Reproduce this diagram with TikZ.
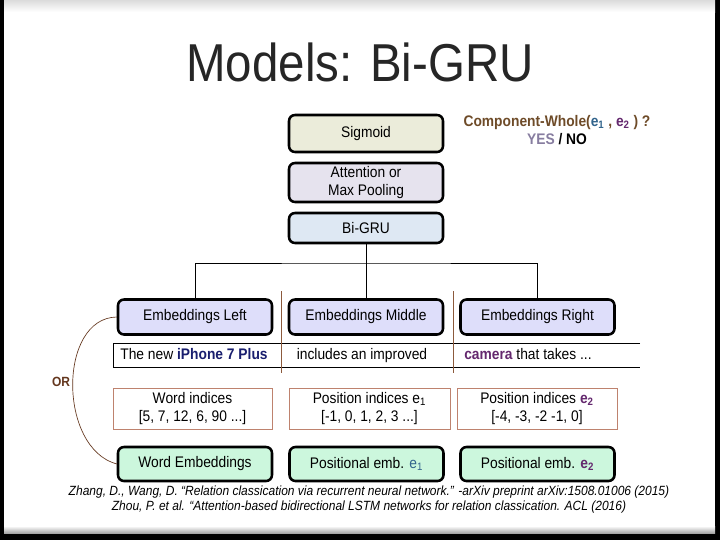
\documentclass[tikz,border=0pt]{standalone}
\usepackage{fontspec}
\setmainfont[FakeStretch=0.9]{Liberation Sans}
\newfontfamily\titlefont[FakeStretch=0.89]{Liberation Sans}
\usetikzlibrary{positioning}

\definecolor{sigfill}{RGB}{235,236,218}
\definecolor{attfill}{RGB}{230,227,238}
\definecolor{grufill}{RGB}{222,232,243}
\definecolor{embfill}{RGB}{222,222,250}
\definecolor{wembfill}{RGB}{204,247,221}
\definecolor{idxdraw}{RGB}{190,130,110}
\definecolor{sepbrown}{RGB}{140,90,60}
\definecolor{orbrown}{RGB}{100,55,30}
\definecolor{cwbrown}{RGB}{110,75,40}
\definecolor{eone}{RGB}{50,100,140}
\definecolor{etwo}{RGB}{100,40,110}
\definecolor{yesgray}{RGB}{135,125,160}
\definecolor{phone}{RGB}{25,30,110}
\definecolor{titlegray}{RGB}{38,38,38}

\tikzset{
  layer/.style={draw=black, line width=1.9pt, rounded corners=4.5pt,
    minimum width=115.5pt, align=center, font=\fontsize{11.5}{13}\selectfont,
    inner sep=0pt},
  idxbox/.style={draw=idxdraw, line width=0.6pt, minimum height=30.75pt,
    align=center, font=\fontsize{11.5}{13.5}\selectfont, inner sep=0pt},
  wordtxt/.style={font=\fontsize{11.5}{13}\selectfont, inner sep=0pt,
    text height=8.5pt, text depth=2.5pt},
  cite/.style={font=\fontsize{10}{12}\selectfont\itshape, inner sep=0pt}
}

\begin{document}
\begin{tikzpicture}[x=0.75pt, y=-0.75pt]
  \useasboundingbox (0,0) rectangle (720,540);
  % slide frame
  \fill[black] (0,0) rectangle (720,540);
  \fill[white] (4,0) rectangle (715,531);
  \shade[top color=black!14, bottom color=white] (4,0) rectangle (715,12);
  \shade[top color=white, bottom color=black!35] (4,526) rectangle (715,533);

  \node[font=\titlefont\fontsize{40}{44}\selectfont, text=titlegray] (title) at (360,62) {Models: Bi-GRU};

  % upper layers
  \node[layer, fill=sigfill, minimum height=27.75pt] (sig) at (366,133.5) {Sigmoid};
  \node[layer, fill=attfill, minimum height=29.25pt] (att) at (366,182.5) {Attention or\\Max Pooling};
  \node[layer, fill=grufill, minimum height=22.5pt] (gru) at (366,228) {Bi-GRU};

  \node[font=\bfseries\fontsize{11.5}{13}\selectfont, align=center, inner sep=0pt] (question) at (557,130)
    {\textcolor{cwbrown}{Component-Whole(}\textcolor{eone}{e\textsubscript{1}}\textcolor{cwbrown}{\ ,\ }\textcolor{etwo}{e\textsubscript{2}}\textcolor{cwbrown}{\ )\ ?}\\[1pt]
     \textcolor{yesgray}{YES} / NO};

  % embedding layers
  \node[layer, fill=embfill, minimum height=26.25pt] (embL) at (195,317) {Embeddings Left};
  \node[layer, fill=embfill, minimum height=26.25pt] (embM) at (366,317) {Embeddings Middle};
  \node[layer, fill=embfill, minimum height=26.25pt] (embR) at (537.5,317) {Embeddings Right};

  \coordinate (split) at (366,263);
  \draw[line width=0.75pt] (gru.south) -- (embM.north);
  \draw[line width=0.75pt] (embL.north) |- (split) -| (embR.north);

  % sentence row
  \coordinate (rowTL) at (113,343);
  \coordinate (rowBL) at (113,367);
  \coordinate (rowTR) at (640,343);
  \coordinate (rowBR) at (640,367);
  \draw[line width=0.75pt] (rowTR) -- (rowTL) -- (rowBL) -- (rowBR);
  \node[wordtxt] (wordsL) at (194,355) {The new \textbf{\textcolor{phone}{iPhone 7 Plus}}};
  \node[wordtxt] (wordsM) at (362,355) {includes an improved};
  \node[wordtxt, anchor=west] (wordsR) at (464,355) {\textbf{\textcolor{etwo}{camera}} that takes ...};

  \coordinate (sepA) at (281,291);
  \coordinate (sepB) at (453,291);
  \draw[sepbrown, line width=0.6pt] (sepA) -- ++(0,82);
  \draw[sepbrown, line width=0.6pt] (sepB) -- ++(0,82);

  % index inputs
  \node[idxbox, minimum width=119.25pt] (idxW) at (192.5,408.5) {Word indices\\{}[5, 7, 12, 6, 90 ...]};
  \node[idxbox, minimum width=120.75pt] (idxA) at (369.5,408.5) {Position indices e\textsubscript{1}\\{}[-1, 0, 1, 2, 3 ...]};
  \node[idxbox, minimum width=120pt] (idxB) at (537,408.5) {Position indices \textbf{\textcolor{etwo}{e\textsubscript{2}}}\\{}[-4, -3, -2 -1, 0]};

  % lookup layers
  \node[layer, fill=wembfill, minimum height=25.5pt] (wemb) at (195,464) {Word Embeddings};
  \node[layer, fill=wembfill, minimum height=25.5pt] (pembA) at (366.5,464) {Positional emb. \textcolor{eone}{e\textsubscript{1}}};
  \node[layer, fill=wembfill, minimum height=25.5pt] (pembB) at (537.5,464) {Positional emb. \textbf{\textcolor{etwo}{e\textsubscript{2}}}};

  \draw[orbrown, line width=0.5pt] (embL.west) .. controls (58,318) and (58,448) .. (wemb.west);
  \node[font=\bfseries\fontsize{10}{12}\selectfont, text=orbrown, inner sep=0pt] (orlabel) at (61,382) {OR};

  % references
  \node[cite] (citeA) at (369,492) {Zhang, D., Wang, D. ``Relation classication via recurrent neural network.'' -arXiv preprint arXiv:1508.01006 (2015)};
  \node[cite] (citeB) at (369,507) {Zhou, P. et al. ``Attention-based bidirectional LSTM  networks for relation classication. ACL (2016)};
\end{tikzpicture}
\end{document}
